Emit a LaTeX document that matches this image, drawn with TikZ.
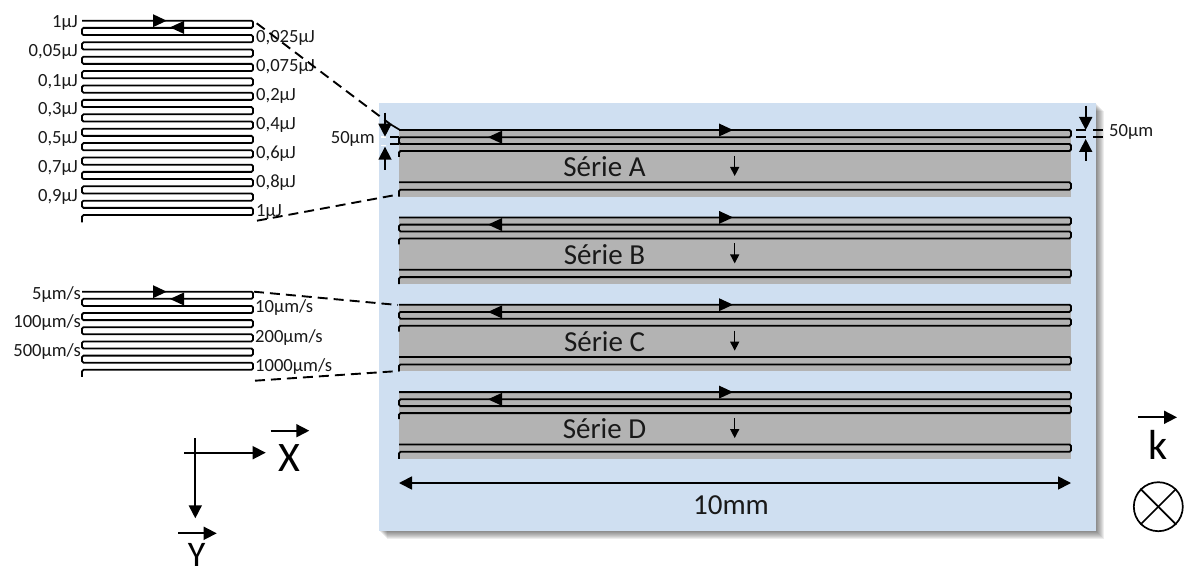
\documentclass[tikz,border=0pt]{standalone}
\usepackage{fontspec}
\setmainfont{Carlito}
\usetikzlibrary{arrows.meta,positioning,calc}
\definecolor{plate}{RGB}{207,223,241}
\definecolor{band}{RGB}{179,179,179}
\definecolor{ink}{RGB}{25,25,25}
\newcommand{\sz}[1]{\fontsize{#1}{#1}\selectfont}
\newcommand{\serpent}[3]{%
  \draw[wire] (82,#1) \foreach \k [evaluate=\k as \ya using #1+2*\k*#3,
    evaluate=\k as \yb using #1+(2*\k+1)*#3,
    evaluate=\k as \yc using #1+(2*\k+2)*#3] in {0,...,#2}
    {-- (253,\ya) -- (253,\yb) -- (82,\yb) -- (82,\yc)};}
\tikzset{
  wire/.style={line width=1.8pt,rounded corners=1.5pt,draw=black},
  dim/.style={line width=1.7pt,-{Triangle[length=13pt,width=13pt]}},
  small/.style={line width=1.3pt,-{Triangle[length=9pt,width=9pt]}},
  dashline/.style={line width=1.9pt,dash pattern=on 10pt off 6pt},
  lab/.style={font=\sz{18.6},text=ink,inner sep=0pt},
  big/.style={font=\sz{29},text=ink,inner sep=0pt},
  axis/.style={font=\sz{42},text=black,inner sep=0pt}
}
\begin{document}
\begin{tikzpicture}[x=1pt,y=-1pt,>=Latex]
\useasboundingbox[clip] (0,0) rectangle (1188,572);
\foreach \s in {1,...,8}
  \fill[black,opacity=.07] (379+\s,103+\s) rectangle (1096+\s,531+\s);
\fill[plate] (379,103) rectangle (1096,531);
\foreach \ser/\yy in {A/130,B/217.4,C/304.7,D/392.1}{
  \fill[band] (399,\yy) rectangle (1071,\yy+66.7);
  \draw[wire] (399,\yy) -- (1071,\yy) -- (1071,\yy+7.2) -- (399,\yy+7.2) -- (399,\yy+14) -- (1071,\yy+14) -- (1071,\yy+21) -- (399,\yy+21) -- (399,\yy+27);
  \draw[wire] (399,\yy+52.3) -- (1071,\yy+52.3) -- (1071,\yy+59.7) -- (399,\yy+59.7) -- (399,\yy+66.7);
  \fill (733,\yy) -- (719,\yy-6.5) -- (719,\yy+6.5) -- cycle;
  \fill (488,\yy+7.2) -- (502,\yy+.7) -- (502,\yy+13.7) -- cycle;
  \node[big] (serie\ser) at (604.5,\yy+37) {Série \ser};
  \draw[small] (734.7,\yy+26) -- (734.7,\yy+46);
}
\serpent{20.7}{13}{7.2}
\serpent{291.7}{5}{7.1}
\fill (166.7,20.7) -- (153,14.2) -- (153,27.2) -- cycle;
\fill (170,27.4) -- (184,20.9) -- (184,33.9) -- cycle;
\fill (166.7,291.7) -- (153,285.2) -- (153,298.2) -- cycle;
\fill (170,299) -- (184,292.5) -- (184,305.5) -- cycle;
\node[lab,anchor=east] (la) at (78,23) {1µJ};
\node[lab,anchor=east] (lb) at (78,52) {0,05µJ};
\node[lab,anchor=east] (lc) at (78,81.5) {0,1µJ};
\node[lab,anchor=east] (ld) at (78,110) {0,3µJ};
\node[lab,anchor=east] (le) at (78,139) {0,5µJ};
\node[lab,anchor=east] (lf) at (78,168) {0,7µJ};
\node[lab,anchor=east] (lg) at (78,197) {0,9µJ};
\node[lab,anchor=west] (ra) at (256,37.7) {0,025µJ};
\node[lab,anchor=west] (rb) at (256,67) {0,075µJ};
\node[lab,anchor=west] (rc) at (256,96) {0,2µJ};
\node[lab,anchor=west] (rd) at (256,125) {0,4µJ};
\node[lab,anchor=west] (re) at (256,154) {0,6µJ};
\node[lab,anchor=west] (rf) at (256,183) {0,8µJ};
\node[lab,anchor=west] (rg) at (256,212) {1µJ};
\node[lab,anchor=east] (va) at (81,295) {5µm/s};
\node[lab,anchor=east] (vb) at (81,323) {100µm/s};
\node[lab,anchor=east] (vc) at (81,352) {500µm/s};
\node[lab,anchor=west] (wa) at (255,308) {10µm/s};
\node[lab,anchor=west] (wb) at (255,338) {200µm/s};
\node[lab,anchor=west] (wc) at (255,367) {1000µm/s};
\coordinate (p1) at (256.7,23.3);
\coordinate (p2) at (390,124);
\coordinate (p3) at (400,130);
\coordinate (p4) at (257,220.7);
\coordinate (p5) at (399.3,194.3);
\coordinate (p6) at (254,291.7);
\coordinate (p7) at (398,305);
\coordinate (p8) at (255,380.7);
\coordinate (p9) at (399,371);
\draw[dashline] (p1) -- (p2);
\draw[line width=1.7pt] (p2) -- (p3);
\draw[dashline] (p4) -- (p5);
\draw[dashline] (p6) -- (p7);
\draw[dashline] (p8) -- (p9);
\node[lab,anchor=east] (gapl) at (375,139) {50µm};
\draw[line width=1.7pt] (390,137.2) -- (399,137.2);
\draw[line width=1.7pt] (390,144) -- (399,144);
\draw[line width=1.5pt,white] (381,137.2) -- (386,137.2) (381,145.5) -- (386,145.5);
\draw[dim] (385,112.7) -- (385,136.7);
\draw[dim] (385,170) -- (385,146.7);
\draw[line width=1.7pt] (1076,130) -- (1086,130) (1093,130) -- (1103,130);
\draw[line width=1.7pt] (1076,137) -- (1086,137) (1093,137) -- (1103,137);
\draw[dim] (1085.7,105.7) -- (1085.7,130);
\draw[dim] (1085.7,161) -- (1085.7,139);
\node[lab,anchor=west] (gapr) at (1109,132) {50µm};
\coordinate (w1) at (399,483);
\coordinate (w2) at (1071,483);
\draw[line width=1.7pt,{Triangle[length=13pt,width=13pt]}-{Triangle[length=13pt,width=13pt]}] (w1) -- (w2);
\node[big] (width) at (731,505) {10mm};
\coordinate (xa) at (184,452.7);
\coordinate (xb) at (265.7,452.7);
\coordinate (ya) at (195.3,438.3);
\coordinate (yb) at (195.3,518.3);
\draw[dim] (xa) -- (xb);
\draw[dim] (ya) -- (yb);
\node[axis] (xlab) at (289,458) {X};
\draw[dim] (270.7,430.7) -- (309.3,430.7);
\node[axis,font=\sz{36},anchor=base] (ylab) at (196.7,566) {Y};
\draw[dim] (178,533.3) -- (216.7,533.3);
\node[axis,anchor=base] (klab) at (1157.7,459.3) {k};
\draw[dim] (1138,417.3) -- (1177,417.3);
\node[draw,circle,line width=1.7pt,minimum size=49pt,inner sep=0pt] (kdir) at (1158.3,506.7) {};
\draw[line width=1.7pt] (kdir.north west) -- (kdir.south east);
\draw[line width=1.7pt] (kdir.north east) -- (kdir.south west);
\end{tikzpicture}
\end{document}
